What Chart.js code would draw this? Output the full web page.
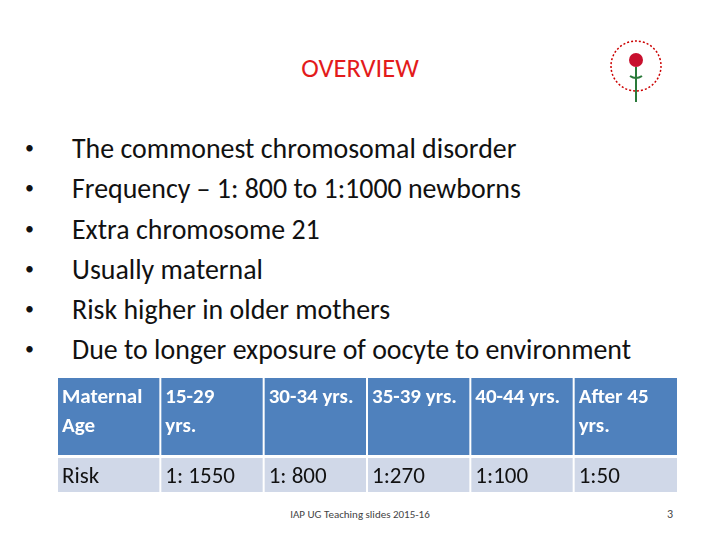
<!DOCTYPE html>
<html><head><meta charset="utf-8">
<script src="https://cdn.jsdelivr.net/npm/chart.js@4"></script>
<style>
body{margin:0;width:720px;height:540px;background:#fff;font-family:Carlito,"Liberation Sans",sans-serif;position:relative;overflow:hidden}
.t{position:absolute;white-space:nowrap}
#title{left:0;width:720px;text-align:center;top:52px;font-size:26.5px;color:#e31b1b}
ul{position:absolute;left:25px;top:129px;margin:0;padding:0;list-style:none}
li{font-size:27.9px;color:#111;height:40.3px;line-height:38px}
li span{display:inline-block;width:47px;font-size:18px;vertical-align:top}
#tbl{position:absolute;left:57px;top:378px;width:620px;height:114px}
#foot{left:0;width:720px;text-align:center;top:508px;font-size:11px;color:#444}
#pg{left:667px;top:507px;font-size:12px;color:#444}
</style></head><body>
<div class="t" id="title">OVERVIEW</div>
<svg style="position:absolute;left:604px;top:36px" width="64" height="72">
<circle cx="32" cy="30" r="25" fill="none" stroke="#c00" stroke-width="1.5" stroke-dasharray="2 2"/>
<circle cx="32" cy="24" r="7" fill="#c8102e"/><path d="M32 31 L32 66" stroke="#2a7a3a" stroke-width="2"/>
<path d="M26 40 Q32 44 38 40" stroke="#2a7a3a" stroke-width="2" fill="none"/></svg>
<ul id="bul"></ul>
<div id="tbl"><canvas id="c"></canvas></div>
<div class="t" id="foot">IAP UG Teaching slides 2015-16</div>
<div class="t" id="pg">3</div>
<script>
const bullets = ['The commonest chromosomal disorder','Frequency – 1: 800 to 1:1000 newborns','Extra chromosome  21','Usually maternal','Risk higher in older mothers','Due to longer exposure of oocyte to environment'];
const headerRow = [['Maternal','Age'],['15-29','yrs.'],['30-34 yrs.'],['35-39 yrs.'],['40-44 yrs.'],['After 45','yrs.']];
const riskRow = ['Risk','1: 1550','1: 800','1:270','1:100','1:50'];
const rowEdges = [0, 77, 80, 114];

document.getElementById('bul').innerHTML = bullets.map(b => '<li><span>•</span>' + b + '</li>').join('');

const tablePlugin = {
  id: 'table',
  afterDraw(chart) {
    const c = chart.ctx, x = chart.scales.x, y = chart.scales.y;
    c.save();
    c.textBaseline = 'top';
    for (let i = 0; i < 6; i++) {
      const x0 = x.getPixelForValue(i), x1 = x.getPixelForValue(i + 1);
      c.fillStyle = '#4f81bd';
      c.fillRect(x0, y.getPixelForValue(rowEdges[0]), x1 - x0, y.getPixelForValue(rowEdges[1]) - y.getPixelForValue(rowEdges[0]));
      c.fillStyle = '#d0d8e8';
      c.fillRect(x0, y.getPixelForValue(rowEdges[2]), x1 - x0, y.getPixelForValue(rowEdges[3]) - y.getPixelForValue(rowEdges[2]));
      c.strokeStyle = '#fff'; c.lineWidth = 2;
      c.beginPath(); c.moveTo(x0, 0); c.lineTo(x0, chart.height); c.stroke();
      c.font = 'bold 21px Carlito, "Liberation Sans", sans-serif';
      c.fillStyle = '#fff';
      headerRow[i].forEach((s, k) => c.fillText(s, x0 + 5, y.getPixelForValue(rowEdges[0]) + 9 + k * 29));
      c.font = '23px Carlito, "Liberation Sans", sans-serif';
      c.fillStyle = '#111';
      c.fillText(riskRow[i], x0 + 5, y.getPixelForValue(rowEdges[2]) + 8);
    }
    c.restore();
  }
};

new Chart(document.getElementById('c'), {
  type: 'scatter',
  data: { datasets: [] },
  options: {
    responsive: true, maintainAspectRatio: false, animation: false,
    layout: { padding: 0 },
    plugins: { legend: { display: false }, tooltip: { enabled: false } },
    scales: {
      x: { type: 'linear', min: 0, max: 6, display: false },
      y: { type: 'linear', min: 0, max: 114, reverse: true, display: false }
    }
  },
  plugins: [tablePlugin]
});
</script>
</body></html>
